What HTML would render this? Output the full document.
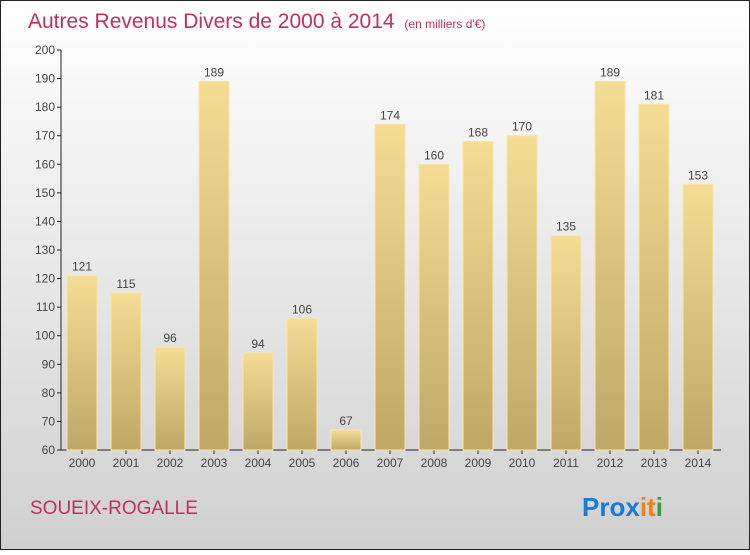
<!DOCTYPE html>
<html><head><meta charset="utf-8"><style>
body{margin:0;width:750px;height:550px;overflow:hidden;font-family:"Liberation Sans",sans-serif}
</style></head><body>
<svg id="c" width="750" height="550" xmlns="http://www.w3.org/2000/svg">
<defs>
<linearGradient id="bg" x1="0" y1="0" x2="0" y2="1"><stop offset="0" stop-color="#ffffff"/><stop offset="1" stop-color="#d0d0d0"/></linearGradient>
<linearGradient id="bar" x1="0" y1="0" x2="0" y2="1"><stop offset="0" stop-color="#f5dc95"/><stop offset="1" stop-color="#bfa766"/></linearGradient>
</defs>
<rect x="0.5" y="0.5" width="749" height="549" fill="url(#bg)" stroke="#222"/>
<text x="28" y="28" font-size="21" fill="#c0305f">Autres Revenus Divers de 2000 à 2014 <tspan font-size="12" dx="4">(en milliers d'€)</tspan></text>
<g id="axes"></g><g id="bars"></g>
<text x="30" y="514" font-size="19" fill="#c0305f">SOUEIX-ROGALLE</text>
<text x="582" y="516" font-size="26" font-weight="bold"><tspan fill="#1a7ad4">Pro</tspan><tspan fill="#1a7ad4">x</tspan><tspan fill="#f08010">i</tspan><tspan fill="#f08010">t</tspan><tspan fill="#30a040">i</tspan></text>
</svg>
<script>
const years=["2000","2001","2002","2003","2004","2005","2006","2007","2008","2009","2010","2011","2012","2013","2014"];
const values=[121,115,96,189,94,106,67,174,160,168,170,135,189,181,153];
const yTicks=[60,70,80,90,100,110,120,130,140,150,160,170,180,190,200];
const NS="http://www.w3.org/2000/svg";
const y=v=>450-(v-60)*400/140;
const x=i=>82+i*44;
function mk(t,a,p){const e=document.createElementNS(NS,t);for(const k in a)e.setAttribute(k,a[k]);p.appendChild(e);return e;}
const ax=document.getElementById('axes'),bs=document.getElementById('bars');
let l=mk('line',{x1:61,y1:50,x2:61,y2:450,stroke:'#222'},ax);


l=mk('line',{x1:61,y1:450,x2:721,y2:450,stroke:'#222'},ax);


yTicks.forEach(v=>{
 mk('line',{x1:57,y1:y(v),x2:61,y2:y(v),stroke:'#222'},ax);
 const t=mk('text',{x:55,y:y(v)+4,'font-size':12,fill:'#444','text-anchor':'end'},ax);t.textContent=v;
 
 
});
values.forEach((v,i)=>{
 const r=mk('rect',{x:x(i)-15,y:y(v),width:30,height:450-y(v),fill:'url(#bar)',stroke:'#f8e6a8','stroke-width':1},bs);
 
 
 const t=mk('text',{x:x(i),y:y(v)-5,'font-size':12,fill:'#444','text-anchor':'middle'},bs);t.textContent=v;
 
 
 const u=mk('text',{x:x(i),y:467,'font-size':12,fill:'#444','text-anchor':'middle'},bs);u.textContent=years[i];
 
 
 mk('line',{x1:x(i),y1:450,x2:x(i),y2:454,stroke:'#222'},ax);
});
</script>
</body></html>
